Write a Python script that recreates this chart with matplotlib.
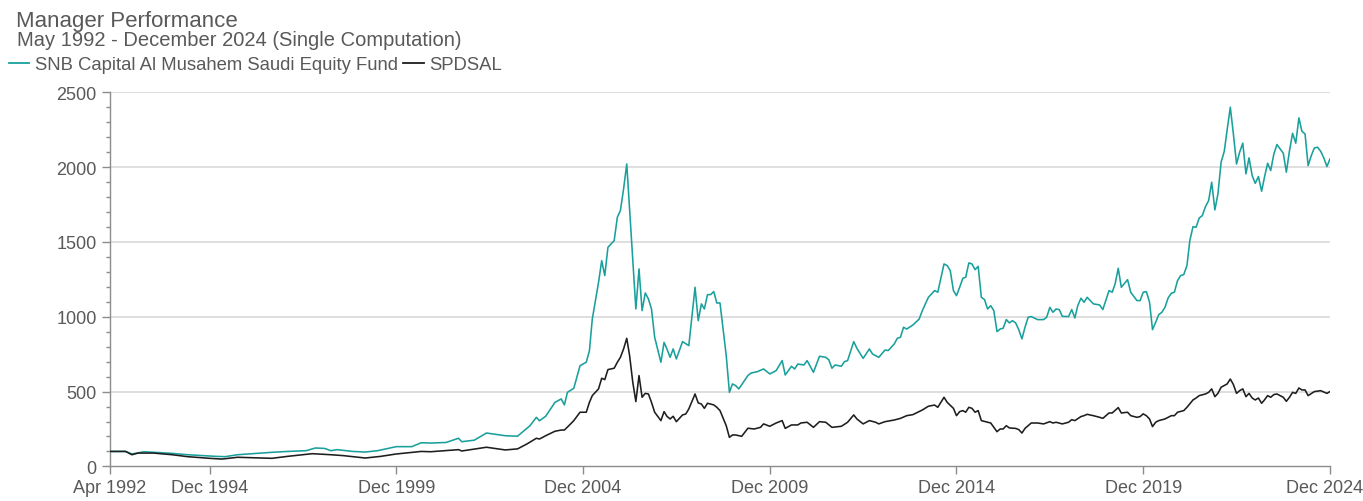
import pandas as pd
import matplotlib
matplotlib.use("Agg")
import matplotlib.pyplot as plt
from matplotlib.lines import Line2D
from matplotlib.ticker import MultipleLocator

# ======================================
# data (month index counted from Apr 1992)
# ======================================
START = pd.Period("1992-04", freq="M")

FUND_NAME = "SNB Capital Al Musahem Saudi Equity Fund"
INDEX_NAME = "SPDSAL"

FUND_MONTHS = [
    0, 5, 7, 11, 20, 25, 34, 37, 41, 52, 57, 63, 66, 69, 71, 73, 78, 82, 86, 92,
    97, 100, 103, 108, 112, 113, 117, 121, 127, 131, 135, 137, 138, 140, 143, 145,
    146, 147, 149, 151, 153, 154, 155, 157, 158, 159, 160, 162, 163, 164, 165, 166,
    169, 170, 171, 172, 173, 174, 175, 177, 178, 179, 180, 181, 182, 184, 186, 187,
    188, 189, 190, 191, 192, 193, 194, 195, 196, 198, 199, 200, 201, 202, 205, 206,
    208, 210, 212, 214, 216, 217, 219, 220, 221, 223, 224, 226, 228, 230, 231, 232,
    233, 235, 236, 237, 239, 240, 242, 244, 245, 247, 249, 250, 252, 253, 254, 255,
    256, 258, 260, 261, 263, 265, 266, 268, 269, 270, 271, 272, 273, 274, 275, 276,
    277, 278, 279, 280, 281, 282, 283, 284, 285, 286, 287, 288, 289, 290, 291, 292,
    293, 294, 295, 296, 298, 300, 301, 302, 303, 304, 305, 306, 308, 309, 310, 311,
    312, 313, 314, 315, 316, 318, 319, 321, 322, 323, 324, 325, 327, 328, 330, 331,
    332, 333, 334, 335, 336, 337, 338, 339, 340, 341, 342, 343, 344, 345, 346, 347,
    348, 349, 350, 351, 352, 353, 354, 355, 356, 357, 358, 359, 360, 361, 362, 363,
    364, 365, 366, 367, 368, 369, 370, 371, 372, 373, 374, 375, 377, 378, 379, 380,
    381, 382, 383, 384, 385, 386, 387, 388, 389, 390, 391, 392,
]
FUND_VALUES = [
    100, 100, 83, 98, 87, 78, 67, 65, 78, 94, 100, 105, 123, 120, 105, 112, 100, 96, 105, 132,
    132, 158, 156, 160, 188, 165, 175, 223, 205, 202, 272, 328, 305, 335, 428, 451,
    411, 495, 522, 673, 696, 774, 985, 1230, 1375, 1275, 1464, 1509, 1665, 1710, 1854, 2021,
    1052, 1320, 1041, 1159, 1119, 1052, 863, 696, 829, 785, 729, 785, 718, 834, 807, 1008,
    1197, 974, 1086, 1052, 1148, 1148, 1168, 1092, 1092, 740, 495, 551, 540, 518, 607, 624,
    633, 651, 618, 640, 707, 611, 669, 651, 684, 678, 707, 629, 736, 729, 713, 656,
    678, 669, 700, 707, 834, 789, 722, 785, 751, 729, 778, 774, 818, 856, 863, 930,
    918, 945, 985, 1041, 1130, 1175, 1164, 1353, 1342, 1308, 1175, 1141, 1197, 1257, 1264, 1360,
    1353, 1315, 1337, 1130, 1115, 1052, 1074, 1041, 901, 918, 923, 981, 959, 974, 959, 914,
    852, 930, 997, 1001, 981, 981, 997, 1063, 1030, 1052, 1048, 1003, 1001, 1048, 992, 1074,
    1124, 1097, 1130, 1108, 1086, 1079, 1048, 1175, 1164, 1219, 1324, 1197, 1248, 1164, 1108, 1108,
    1164, 1168, 1097, 914, 963, 1014, 1030, 1063, 1126, 1157, 1164, 1242, 1275, 1282, 1342, 1509,
    1602, 1598, 1660, 1676, 1736, 1776, 1899, 1714, 1821, 2033, 2106, 2249, 2400, 2222, 2021, 2099,
    2160, 1955, 2062, 1943, 1892, 1937, 1839, 1932, 2026, 1977, 2088, 2151, 2093, 1966, 2110, 2226,
    2160, 2329, 2240, 2222, 2010, 2077, 2128, 2133, 2106, 2062, 2004, 2055,
]

INDEX_MONTHS = [
    0, 5, 7, 9, 14, 20, 25, 32, 36, 41, 52, 57, 65, 71, 75, 82, 87, 92, 100, 103,
    112, 113, 121, 127, 131, 134, 137, 138, 140, 143, 145, 146, 148, 149, 151, 153,
    154, 155, 157, 158, 159, 160, 162, 163, 164, 165, 166, 167, 168, 169, 170, 171,
    172, 173, 174, 175, 177, 178, 179, 180, 181, 182, 184, 185, 186, 188, 189, 190,
    191, 192, 194, 195, 196, 198, 199, 200, 201, 203, 205, 207, 209, 210, 212, 214,
    216, 217, 219, 221, 222, 224, 226, 228, 230, 232, 235, 237, 239, 240, 242, 244,
    246, 247, 249, 252, 254, 256, 258, 261, 263, 265, 266, 268, 269, 271, 272, 273,
    274, 275, 276, 277, 278, 279, 280, 282, 283, 285, 286, 287, 288, 289, 291, 292,
    293, 294, 296, 298, 300, 302, 303, 304, 306, 308, 309, 310, 312, 313, 314, 316,
    318, 319, 321, 322, 324, 325, 327, 328, 330, 331, 332, 333, 334, 335, 336, 337,
    339, 341, 342, 343, 345, 346, 348, 349, 350, 352, 353, 354, 355, 356, 357, 359,
    360, 361, 362, 363, 364, 365, 366, 367, 368, 369, 370, 371, 372, 373, 374, 375,
    377, 378, 379, 380, 381, 382, 383, 384, 385, 387, 389, 391, 392,
]
INDEX_VALUES = [
    100, 100, 78, 89, 89, 78, 65, 54, 49, 61, 54, 67, 85, 78, 72, 56, 67, 83, 100, 98,
    112, 103, 128, 110, 117, 150, 188, 183, 205, 235, 243, 243, 284, 306, 362, 362,
    428, 473, 518, 589, 580, 647, 656, 696, 729, 785, 856, 740, 562, 433, 607, 462,
    488, 484, 428, 362, 306, 366, 335, 317, 335, 299, 344, 350, 384, 484, 424, 417,
    388, 422, 411, 395, 373, 272, 194, 210, 210, 201, 255, 250, 261, 284, 268, 290,
    306, 254, 277, 277, 290, 295, 261, 299, 295, 261, 268, 295, 344, 317, 284, 306,
    295, 284, 299, 310, 321, 339, 346, 377, 402, 410, 395, 462, 428, 388, 339, 366,
    373, 362, 395, 388, 362, 373, 306, 295, 290, 232, 250, 250, 272, 257, 254, 246,
    223, 254, 290, 290, 284, 299, 290, 295, 284, 295, 312, 306, 333, 339, 348, 339,
    328, 321, 357, 357, 393, 357, 362, 339, 328, 333, 351, 339, 317, 266, 295, 306,
    317, 339, 339, 362, 373, 395, 444, 457, 473, 484, 495, 518, 466, 488, 529, 551,
    584, 547, 488, 506, 518, 466, 488, 457, 444, 457, 422, 444, 473, 462, 480, 484,
    462, 435, 462, 495, 488, 524, 511, 511, 473, 500, 506, 488, 500,
]

X_TICK_LABELS = ["Apr 1992", "Dec 1994", "Dec 1999", "Dec 2004",
                 "Dec 2009", "Dec 2014", "Dec 2019", "Dec 2024"]
Y_TICKS = [0, 500, 1000, 1500, 2000, 2500]

TEAL = "#19a09c"
DARK = "#1e1e1e"
TEXT_GRAY = "#595959"


def to_dates(months):
    return [(START + m).to_timestamp() for m in months]


plt.rcParams["font.family"] = ["Liberation Sans", "DejaVu Sans"]

W, H = 1363, 502
fig = plt.figure(figsize=(W / 100, H / 100), dpi=100)
ax = fig.add_axes([110 / W, (H - 467.4) / H, 1220 / W, (467.4 - 93.3) / H])

ax.plot(to_dates(FUND_MONTHS), FUND_VALUES, color=TEAL, lw=1.15, zorder=3)
ax.plot(to_dates(INDEX_MONTHS), INDEX_VALUES, color=DARK, lw=1.15, zorder=4)

# axes look
ax.set_ylim(Y_TICKS[0], Y_TICKS[-1])
ax.set_xlim((START).to_timestamp(), (START + 392).to_timestamp())
ax.set_yticks(Y_TICKS)
ax.yaxis.set_minor_locator(MultipleLocator(100))
tick_dates = [pd.to_datetime(lbl, format="%b %Y") for lbl in X_TICK_LABELS]
ax.set_xticks(tick_dates)
# last label is drawn by hand a bit to the left so it stays inside the figure
ax.set_xticklabels(X_TICK_LABELS[:-1] + [""])
ax.annotate(X_TICK_LABELS[-1], xy=(tick_dates[-1], 0),
            xycoords=("data", "axes fraction"), xytext=(-4, -8.8),
            textcoords="offset points", ha="center", va="top",
            fontsize=13, color=TEXT_GRAY, annotation_clip=False)

for y in Y_TICKS[1:]:
    ax.axhline(y, color="#d9d9d9", lw=1.2, zorder=1)

for side in ["top", "right"]:
    ax.spines[side].set_visible(False)
for side in ["left", "bottom"]:
    ax.spines[side].set_color("#8c8c8c")
    ax.spines[side].set_linewidth(1.0)

ax.tick_params(axis="both", which="major", labelsize=13, labelcolor=TEXT_GRAY,
               color="#8c8c8c", length=6, width=1.0)
ax.tick_params(axis="x", which="major", pad=3)
ax.tick_params(axis="y", which="minor", length=3, width=1.0, color="#8c8c8c")

# titles
fig.text(16 / W, 1 - 26.7 / H, "Manager Performance", fontsize=16,
         color=TEXT_GRAY, va="baseline", ha="left")
fig.text(17 / W, 1 - 45.7 / H, "May 1992 - December 2024 (Single Computation)",
         fontsize=14.5, color=TEXT_GRAY, va="baseline", ha="left")

# legend
handles = [Line2D([0], [0], color=TEAL, lw=1.3), Line2D([0], [0], color=DARK, lw=1.3)]
fig.legend(handles, [FUND_NAME, INDEX_NAME], loc="upper left",
           bbox_to_anchor=(9 / W, 1 - 57 / H), ncol=2, frameon=False,
           fontsize=13.3, handlelength=1.1, handletextpad=0.3, columnspacing=0.3,
           borderpad=0, borderaxespad=0, labelcolor=TEXT_GRAY)

fig.savefig("out.png", dpi=100)
